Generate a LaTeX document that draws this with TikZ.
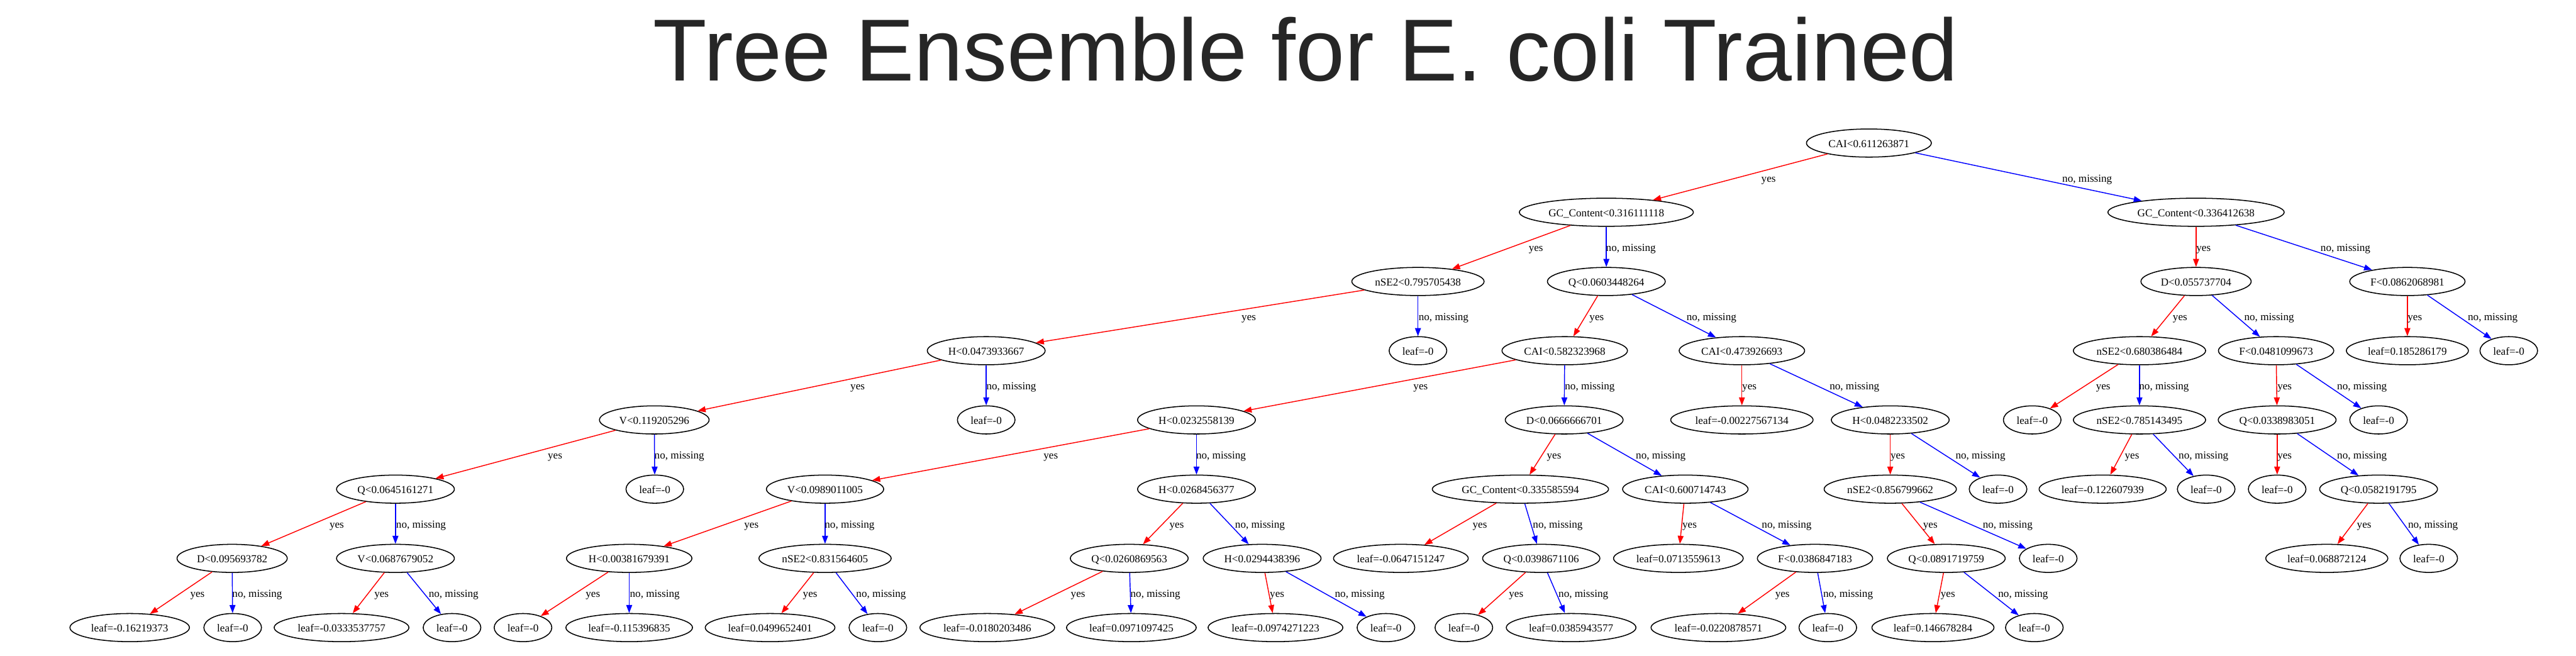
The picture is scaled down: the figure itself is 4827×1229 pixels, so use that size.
\documentclass[tikz,border=0pt]{standalone}
\usepackage{fontspec}
\usetikzlibrary{shapes.geometric,arrows.meta}
\newfontfamily\tnfam{Liberation Serif}
\newfontfamily\ttlfam{Liberation Sans}
\newcommand\tnfont{\tnfam\fontsize{20.2}{24}\selectfont}
\newcommand\ttlfont{\ttlfam\fontsize{165}{190}\selectfont}
\definecolor{ttlgray}{RGB}{38,38,38}
\tikzset{
  tnode/.style={draw=black, line width=1.8pt, ellipse, minimum height=52.7pt, minimum width=108pt,
    inner xsep=7pt, inner ysep=2pt, font=\tnfont, text height=15.6pt, text depth=0pt},
  lbl/.style={font=\tnfont, inner sep=0pt, text height=15.6pt, text depth=0pt},
  yesedge/.style={draw=red, line width=1.7pt, -{Triangle[length=15pt,width=11pt,fill=red]}},
  noedge/.style={draw=blue, line width=1.7pt, -{Triangle[length=15pt,width=11pt,fill=blue]}}
}
\newcommand\EdgeYes[4]{\draw[yesedge] (#1) -- (#2); \node[lbl] (y#2) at (#3,#4) {yes};}
\newcommand\EdgeNo[4]{\draw[noedge] (#1) -- (#2); \node[lbl] (y#2) at (#3,#4) {no, missing};}
\begin{document}
\begin{tikzpicture}[x=1pt,y=-1pt]
\useasboundingbox (0,0) rectangle (4827,1229);
\fill[white] (0,0) rectangle (4827,1229);
\node[font=\ttlfont, text=ttlgray, anchor=base, inner sep=0pt] (title) at (2447,152) {Tree Ensemble for E. coli Trained};
% level 0
\node[tnode] (n0) at (3502,268) {CAI<0.611263871};
% level 1
\node[tnode] (n1) at (3010,397.7) {GC\_Content<0.316111118};
\node[tnode] (n2) at (4115,397.7) {GC\_Content<0.336412638};
% level 2
\node[tnode] (n3) at (2657,527.4) {nSE2<0.795705438};
\node[tnode] (n4) at (3010,527.4) {Q<0.0603448264};
\node[tnode] (n5) at (4115,527.4) {D<0.055737704};
\node[tnode] (n6) at (4511,527.4) {F<0.0862068981};
% level 3
\node[tnode] (n7) at (1848,657.1) {H<0.0473933667};
\node[tnode] (n8) at (2657,657.1) {leaf=-0};
\node[tnode] (n9) at (2932,657.1) {CAI<0.582323968};
\node[tnode] (n10) at (3264,657.1) {CAI<0.473926693};
\node[tnode] (n11) at (4009,657.1) {nSE2<0.680386484};
\node[tnode] (n12) at (4265,657.1) {F<0.0481099673};
\node[tnode] (n13) at (4511,657.1) {leaf=0.185286179};
\node[tnode] (n14) at (4701,657.1) {leaf=-0};
% level 4
\node[tnode] (n15) at (1226,786.8) {V<0.119205296};
\node[tnode] (n16) at (1848,786.8) {leaf=-0};
\node[tnode] (n17) at (2242,786.8) {H<0.0232558139};
\node[tnode] (n18) at (2931,786.8) {D<0.0666666701};
\node[tnode] (n19) at (3264,786.8) {leaf=-0.00227567134};
\node[tnode] (n20) at (3542,786.8) {H<0.0482233502};
\node[tnode] (n21) at (3808,786.8) {leaf=-0};
\node[tnode] (n22) at (4009,786.8) {nSE2<0.785143495};
\node[tnode] (n23) at (4267,786.8) {Q<0.0338983051};
\node[tnode] (n24) at (4457,786.8) {leaf=-0};
% level 5
\node[tnode] (n25) at (741,916.5) {Q<0.0645161271};
\node[tnode] (n26) at (1227,916.5) {leaf=-0};
\node[tnode] (n27) at (1546,916.5) {V<0.0989011005};
\node[tnode] (n28) at (2242,916.5) {H<0.0268456377};
\node[tnode] (n29) at (2849,916.5) {GC\_Content<0.335585594};
\node[tnode] (n30) at (3158,916.5) {CAI<0.600714743};
\node[tnode] (n31) at (3542,916.5) {nSE2<0.856799662};
\node[tnode] (n32) at (3744,916.5) {leaf=-0};
\node[tnode] (n33) at (3940,916.5) {leaf=-0.122607939};
\node[tnode] (n34) at (4134,916.5) {leaf=-0};
\node[tnode] (n35) at (4267,916.5) {leaf=-0};
\node[tnode] (n36) at (4457,916.5) {Q<0.0582191795};
% level 6
\node[tnode] (n37) at (435,1046.2) {D<0.095693782};
\node[tnode] (n38) at (741,1046.2) {V<0.0687679052};
\node[tnode] (n39) at (1179,1046.2) {H<0.00381679391};
\node[tnode] (n40) at (1546,1046.2) {nSE2<0.831564605};
\node[tnode] (n41) at (2116,1046.2) {Q<0.0260869563};
\node[tnode] (n42) at (2365,1046.2) {H<0.0294438396};
\node[tnode] (n43) at (2625,1046.2) {leaf=-0.0647151247};
\node[tnode] (n44) at (2888,1046.2) {Q<0.0398671106};
\node[tnode] (n45) at (3145,1046.2) {leaf=0.0713559613};
\node[tnode] (n46) at (3401,1046.2) {F<0.0386847183};
\node[tnode] (n47) at (3647,1046.2) {Q<0.0891719759};
\node[tnode] (n48) at (3838,1046.2) {leaf=-0};
\node[tnode] (n49) at (4360,1046.2) {leaf=0.068872124};
\node[tnode] (n50) at (4551,1046.2) {leaf=-0};
% level 7
\node[tnode] (n51) at (243,1175.9) {leaf=-0.16219373};
\node[tnode] (n52) at (436,1175.9) {leaf=-0};
\node[tnode] (n53) at (640,1175.9) {leaf=-0.0333537757};
\node[tnode] (n54) at (847,1175.9) {leaf=-0};
\node[tnode] (n55) at (980,1175.9) {leaf=-0};
\node[tnode] (n56) at (1179,1175.9) {leaf=-0.115396835};
\node[tnode] (n57) at (1443,1175.9) {leaf=0.0499652401};
\node[tnode] (n58) at (1645,1175.9) {leaf=-0};
\node[tnode] (n59) at (1850,1175.9) {leaf=-0.0180203486};
\node[tnode] (n60) at (2120,1175.9) {leaf=0.0971097425};
\node[tnode] (n61) at (2390,1175.9) {leaf=-0.0974271223};
\node[tnode] (n62) at (2597,1175.9) {leaf=-0};
\node[tnode] (n63) at (2743,1175.9) {leaf=-0};
\node[tnode] (n64) at (2944,1175.9) {leaf=0.0385943577};
\node[tnode] (n65) at (3220,1175.9) {leaf=-0.0220878571};
\node[tnode] (n66) at (3425,1175.9) {leaf=-0};
\node[tnode] (n67) at (3622,1175.9) {leaf=0.146678284};
\node[tnode] (n68) at (3812,1175.9) {leaf=-0};
% edges
\EdgeYes{n0}{n1}{3314}{332.85}
\EdgeNo{n0}{n2}{3911}{332.85}
\EdgeYes{n1}{n3}{2878}{462.55}
\EdgeNo{n1}{n4}{3056}{462.55}
\EdgeYes{n2}{n5}{4129}{462.55}
\EdgeNo{n2}{n6}{4395}{462.55}
\EdgeYes{n3}{n7}{2340}{592.25}
\EdgeNo{n3}{n8}{2705}{592.25}
\EdgeYes{n4}{n9}{2992}{592.25}
\EdgeNo{n4}{n10}{3207}{592.25}
\EdgeYes{n5}{n11}{4085}{592.25}
\EdgeNo{n5}{n12}{4252}{592.25}
\EdgeYes{n6}{n13}{4525}{592.25}
\EdgeNo{n6}{n14}{4671}{592.25}
\EdgeYes{n7}{n15}{1607}{721.95}
\EdgeNo{n7}{n16}{1895}{721.95}
\EdgeYes{n9}{n17}{2662}{721.95}
\EdgeNo{n9}{n18}{2979}{721.95}
\EdgeYes{n10}{n19}{3278}{721.95}
\EdgeNo{n10}{n20}{3475}{721.95}
\EdgeYes{n11}{n21}{3941}{721.95}
\EdgeNo{n11}{n22}{4055}{721.95}
\EdgeYes{n12}{n23}{4281}{721.95}
\EdgeNo{n12}{n24}{4426}{721.95}
\EdgeYes{n15}{n25}{1040}{851.65}
\EdgeNo{n15}{n26}{1273}{851.65}
\EdgeYes{n17}{n27}{1969}{851.65}
\EdgeNo{n17}{n28}{2288}{851.65}
\EdgeYes{n18}{n29}{2912}{851.65}
\EdgeNo{n18}{n30}{3112}{851.65}
\EdgeYes{n20}{n31}{3556}{851.65}
\EdgeNo{n20}{n32}{3711}{851.65}
\EdgeYes{n22}{n33}{3995}{851.65}
\EdgeNo{n22}{n34}{4129}{851.65}
\EdgeYes{n23}{n35}{4281}{851.65}
\EdgeNo{n23}{n36}{4426}{851.65}
\EdgeYes{n25}{n37}{631}{981.35}
\EdgeNo{n25}{n38}{789}{981.35}
\EdgeYes{n27}{n39}{1408}{981.35}
\EdgeNo{n27}{n40}{1592}{981.35}
\EdgeYes{n28}{n41}{2205}{981.35}
\EdgeNo{n28}{n42}{2361}{981.35}
\EdgeYes{n29}{n43}{2773}{981.35}
\EdgeNo{n29}{n44}{2919}{981.35}
\EdgeYes{n30}{n45}{3166}{981.35}
\EdgeNo{n30}{n46}{3348}{981.35}
\EdgeYes{n31}{n47}{3617}{981.35}
\EdgeNo{n31}{n48}{3762}{981.35}
\EdgeYes{n36}{n49}{4430}{981.35}
\EdgeNo{n36}{n50}{4559}{981.35}
\EdgeYes{n37}{n51}{370}{1111.05}
\EdgeNo{n37}{n52}{482}{1111.05}
\EdgeYes{n38}{n53}{715}{1111.05}
\EdgeNo{n38}{n54}{850}{1111.05}
\EdgeYes{n39}{n55}{1111}{1111.05}
\EdgeNo{n39}{n56}{1227}{1111.05}
\EdgeYes{n40}{n57}{1518}{1111.05}
\EdgeNo{n40}{n58}{1651}{1111.05}
\EdgeYes{n41}{n59}{2020}{1111.05}
\EdgeNo{n41}{n60}{2165}{1111.05}
\EdgeYes{n42}{n61}{2393}{1111.05}
\EdgeNo{n42}{n62}{2548}{1111.05}
\EdgeYes{n44}{n63}{2841}{1111.05}
\EdgeNo{n44}{n64}{2967}{1111.05}
\EdgeYes{n46}{n65}{3340}{1111.05}
\EdgeNo{n46}{n66}{3463}{1111.05}
\EdgeYes{n47}{n67}{3650}{1111.05}
\EdgeNo{n47}{n68}{3791}{1111.05}
\end{tikzpicture}
\end{document}
